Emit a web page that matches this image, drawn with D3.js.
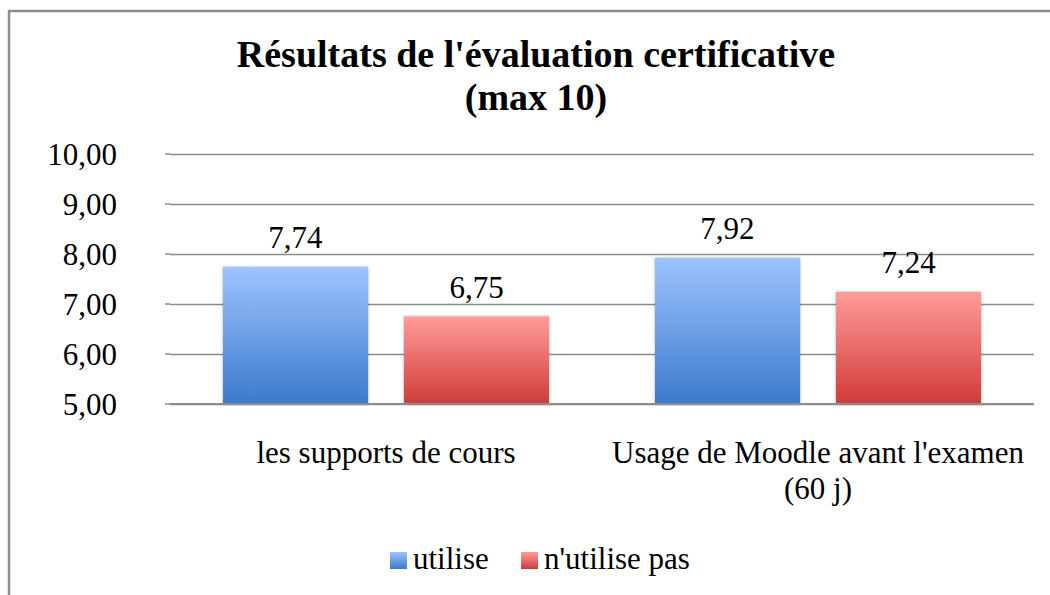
<!DOCTYPE html>
<html>
<head>
<meta charset="utf-8">
<script src="https://cdn.jsdelivr.net/npm/d3@7"></script>
<style>
  html, body { margin: 0; padding: 0; background: #fff; }
  svg { display: block; }
</style>
</head>
<body>
<svg id="chart" width="1050" height="595"></svg>
<script>
const categories = [["les supports de cours"], ["Usage de Moodle avant l'examen", "(60 j)"]];
const categoryKeys = ["les supports de cours", "Usage de Moodle avant l'examen (60 j)"];
const seriesNames = ["utilise", "n'utilise pas"];
const utiliseValues = [7.74, 7.92];
const nUtilisePasValues = [6.75, 7.24];
const yTicks = [5, 6, 7, 8, 9, 10];
const titleLines = ["Résultats de l'évaluation certificative", "(max 10)"];

const FONT = "'Liberation Serif', 'Times New Roman', serif";
const FS = 31;
const series = [utiliseValues, nUtilisePasValues];
const svg = d3.select("#chart");

const defs = svg.append("defs");
const grads = [
  {id: "gBlue", top: "#9dc3ff", bottom: "#3b7bcb"},
  {id: "gRed", top: "#ff9b99", bottom: "#cf3b38"}
];
grads.forEach(g => {
  const lg = defs.append("linearGradient").attr("id", g.id)
    .attr("x1", 0).attr("y1", 0).attr("x2", 0).attr("y2", 1);
  lg.append("stop").attr("offset", "0%").attr("stop-color", g.top);
  lg.append("stop").attr("offset", "100%").attr("stop-color", g.bottom);
});
const f = defs.append("filter").attr("id", "shadow")
  .attr("x", "-10%").attr("y", "-10%").attr("width", "120%").attr("height", "120%");
f.append("feGaussianBlur").attr("in", "SourceAlpha").attr("stdDeviation", 1.5).attr("result", "b");
f.append("feComponentTransfer").attr("in", "b").attr("result", "s")
  .append("feFuncA").attr("type", "linear").attr("slope", 0.35);
const fm = f.append("feMerge");
fm.append("feMergeNode").attr("in", "s");
fm.append("feMergeNode").attr("in", "SourceGraphic");

// outer border
svg.append("path")
  .attr("d", "M9,600 V11 H1060")
  .attr("fill", "none").attr("stroke", "#8c8c8c").attr("stroke-width", 2.5);

// title
svg.append("text").attr("text-anchor", "middle")
  .attr("font-family", FONT).attr("font-weight", "bold").attr("font-size", 38)
  .selectAll("tspan").data(titleLines).join("tspan")
  .attr("x", 536).attr("y", (d, i) => 67 + i * 43).text(d => d);

const plotLeft = 170, plotRight = 1034;
const y = d3.scaleLinear().domain([5, 10]).range([404, 154]);
const x0 = d3.scaleBand().domain(categoryKeys).range([plotLeft, plotRight]).padding(0);
const groupPad = 53;
const x1 = d3.scaleBand().domain(seriesNames)
  .range([groupPad, x0.bandwidth() - groupPad]).paddingInner(0.199).paddingOuter(0);
const fmt = v => d3.format(".2f")(v).replace(".", ",");

// gridlines
const yAxis = d3.axisLeft(y).tickValues(yTicks).tickSize(-(plotRight - plotLeft)).tickFormat(fmt);
const ga = svg.append("g").attr("transform", `translate(${plotLeft},0)`).call(yAxis);
ga.select(".domain").remove();
ga.selectAll(".tick line").attr("stroke", "#8c8c8c").attr("stroke-width", 1.5);
ga.selectAll(".tick text").remove();
// small outer ticks
svg.append("g").selectAll("line").data(yTicks).join("line")
  .attr("x1", plotLeft - 5).attr("x2", plotLeft)
  .attr("y1", d => y(d)).attr("y2", d => y(d))
  .attr("stroke", "#8c8c8c").attr("stroke-width", 1.5);
// y labels
svg.append("g").selectAll("text").data(yTicks).join("text")
  .attr("x", 117).attr("y", d => y(d) + 11)
  .attr("text-anchor", "end").attr("font-family", FONT).attr("font-size", FS)
  .text(fmt);

// bars
const colors = ["url(#gBlue)", "url(#gRed)"];
const gBars = svg.append("g");
categoryKeys.forEach((c, ci) => {
  seriesNames.forEach((s, si) => {
    const v = series[si][ci];
    const bx = x0(c) + x1(s);
    gBars.append("rect")
      .attr("x", bx).attr("y", y(v))
      .attr("width", x1.bandwidth()).attr("height", y(5) - y(v))
      .attr("fill", colors[si]).attr("filter", "url(#shadow)");
    gBars.append("text")
      .attr("x", bx + x1.bandwidth() / 2).attr("y", y(v) - 19)
      .attr("text-anchor", "middle").attr("font-family", FONT).attr("font-size", FS)
      .text(fmt(v));
  });
});

// baseline axis
svg.append("line").attr("x1", plotLeft).attr("x2", plotRight)
  .attr("y1", y(5)).attr("y2", y(5)).attr("stroke", "#8c8c8c").attr("stroke-width", 2);

// category labels
categoryKeys.forEach((c, ci) => {
  svg.append("text").attr("text-anchor", "middle").attr("font-family", FONT).attr("font-size", FS)
    .selectAll("tspan").data(categories[ci]).join("tspan")
    .attr("x", x0(c) + x0.bandwidth() / 2)
    .attr("y", (d, i) => 463 + i * 36).text(d => d);
});

// legend
const legend = [{name: seriesNames[0], x: 390, fill: colors[0]}, {name: seriesNames[1], x: 521, fill: colors[1]}];
const lg = svg.append("g");
legend.forEach(l => {
  lg.append("rect").attr("x", l.x).attr("y", 552).attr("width", 17).attr("height", 17).attr("fill", l.fill);
  lg.append("text").attr("x", l.x + 23).attr("y", 569).attr("font-family", FONT).attr("font-size", FS).text(l.name);
});
</script>
</body>
</html>
